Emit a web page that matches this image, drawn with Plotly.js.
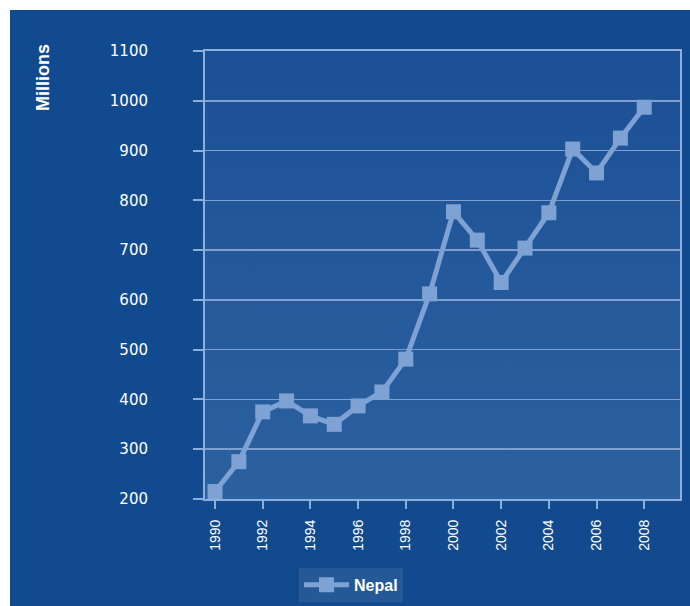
<!DOCTYPE html>
<html>
<head>
<meta charset="utf-8">
<script src="https://cdn.plot.ly/plotly-3.0.1.min.js"></script>
<style>
html,body{margin:0;padding:0;background:#ffffff;width:690px;height:606px;overflow:hidden;}
#chart{position:absolute;left:10px;top:10px;width:680px;height:596px;}
</style>
</head>
<body>
<div id="chart"></div>
<script>
const years = [1990,1991,1992,1993,1994,1995,1996,1997,1998,1999,2000,2001,2002,2003,2004,2005,2006,2007,2008];
const nepal = [215,275,375,397,367,350,387,415,481,612,777,720,635,704,775,903,855,925,987];
const seriesName = "Nepal";
const yTitle = "Millions";

const grad = "data:image/svg+xml;charset=utf-8," + encodeURIComponent(
  '<svg xmlns="http://www.w3.org/2000/svg" width="100" height="100" preserveAspectRatio="none">' +
  '<defs><linearGradient id="g" x1="0" y1="0" x2="0" y2="1">' +
  '<stop offset="0" stop-color="#1c5096"/><stop offset="1" stop-color="#2b619f"/>' +
  '</linearGradient></defs><rect width="100" height="100" fill="url(#g)"/></svg>');

const trace = {
  x: years, y: nepal, name: seriesName, type: "scatter", mode: "lines+markers",
  line: {color: "#7ea2d3", width: 5},
  marker: {symbol: "square", size: 15, color: "#7ea2d3"},
  showlegend: true
};

const layout = {
  width: 680, height: 596,
  margin: {l: 195, r: 10, t: 41, b: 107},
  paper_bgcolor: "#124a8f",
  plot_bgcolor: "#24589a",
  font: {family: "Liberation Sans, Arial, sans-serif", color: "#ffffff"},
  images: [{
    source: grad, xref: "paper", yref: "paper", x: 0, y: 1,
    sizex: 1, sizey: 1, xanchor: "left", yanchor: "top",
    sizing: "stretch", layer: "below"
  }],
  xaxis: {
    range: [1989.58, 2009.5], tick0: 1990, dtick: 2, tickmode: "linear",
    showgrid: false, zeroline: false,
    showline: true, linecolor: "#8eaedb", linewidth: 2, mirror: true,
    ticks: "outside", ticklen: 8, tickwidth: 2, tickcolor: "#8eaedb",
    tickangle: -90, ticklabelstandoff: 5,
    tickfont: {size: 14, color: "#ffffff", family: "Liberation Sans Narrow, Liberation Sans, Arial, sans-serif"}
  },
  yaxis: {
    range: [200, 1100], tick0: 200, dtick: 100, tickmode: "linear",
    showgrid: true, gridcolor: "#7f9fd0", gridwidth: 1.5, zeroline: false,
    showline: true, linecolor: "#8eaedb", linewidth: 2, mirror: true,
    ticks: "outside", ticklen: 10, tickwidth: 2, tickcolor: "#8eaedb",
    ticklabelstandoff: 42,
    tickfont: {size: 15, color: "#ffffff", family: "DejaVu Sans, sans-serif"}
  },
  legend: {
    orientation: "h", xref: "container", yref: "container",
    x: 0.425, xanchor: "left", y: 0.064, yanchor: "top",
    bgcolor: "rgba(255,255,255,0.08)",
    font: {size: 16, color: "#ffffff", family: "Liberation Sans, Arial, sans-serif", weight: "bold"},
    itemwidth: 45
  },
  annotations: [{
    text: "<b>" + yTitle + "</b>", xref: "paper", yref: "paper",
    x: -0.341, y: 0.94, xanchor: "center", yanchor: "middle",
    textangle: -90, showarrow: false,
    font: {size: 18, color: "#ffffff", family: "Liberation Sans, Arial, sans-serif"}
  }]
};

Plotly.newPlot("chart", [trace], layout, {displayModeBar: false, staticPlot: true});
</script>
</body>
</html>
